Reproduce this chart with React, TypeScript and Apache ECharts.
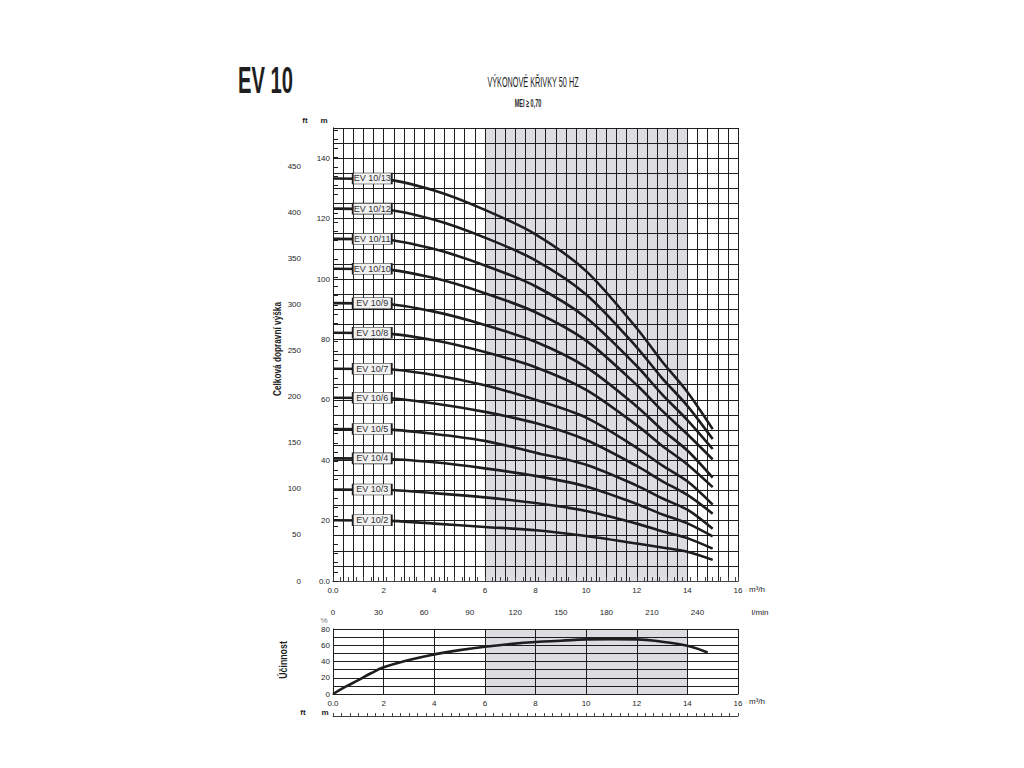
import React, { useEffect, useRef } from "react";
import * as echarts from "echarts";

const FONT = '"Liberation Sans Narrow", "Liberation Sans", "DejaVu Sans", sans-serif';
const INK = "#1e1e1e";
const SHADE = "#dcdce1";

// flow (m3/h) sample points of the head curves
const FLOW = [0, 2, 4, 6, 8, 10, 12, 13, 14, 15];
const EV13 = [133.3, 133.0, 129.3, 122.9, 114.8, 102.6, 83.7, 72.7, 62.6, 50.3];
const EV12 = [123.3, 123.0, 119.6, 113.7, 106.2, 94.9, 77.4, 67.2, 58.0, 47.0];
const EV11 = [113.3, 113.1, 109.9, 104.5, 97.6, 87.2, 71.2, 61.8, 53.3, 43.7];
const EV10 = [103.4, 103.2, 100.3, 95.3, 89.0, 79.6, 64.9, 56.4, 48.6, 40.3];
const EV9 = [92.0, 91.8, 89.2, 84.8, 79.2, 70.8, 57.8, 50.1, 43.2, 34.2];
const EV8 = [82.2, 82.0, 79.7, 75.8, 70.8, 63.3, 51.6, 44.8, 38.6, 31.1];
const EV7 = [70.3, 70.2, 68.2, 64.8, 60.0, 54.1, 44.1, 38.3, 33.0, 25.3];
const EV6 = [60.7, 60.6, 58.8, 56.0, 52.3, 46.7, 38.1, 33.1, 28.5, 22.3];
const EV5 = [50.3, 50.2, 48.7, 46.4, 42.5, 38.5, 31.6, 27.4, 23.6, 17.3];
const EV4 = [40.6, 40.5, 39.3, 37.3, 34.8, 31.3, 25.5, 22.1, 19.1, 14.8];
const EV3 = [30.3, 30.2, 29.1, 27.7, 25.8, 23.2, 19.0, 16.5, 14.2, 10.7];
const EV2 = [20.1, 20.0, 19.0, 17.9, 16.8, 14.9, 12.4, 11.1, 9.7, 7.0];

const CURVE_NAMES = ["EV 10/13", "EV 10/12", "EV 10/11", "EV 10/10", "EV 10/9", "EV 10/8", "EV 10/7", "EV 10/6", "EV 10/5", "EV 10/4", "EV 10/3", "EV 10/2"];
const CURVE_VALUES = [EV13, EV12, EV11, EV10, EV9, EV8, EV7, EV6, EV5, EV4, EV3, EV2];
const LABEL_FLOW = 1.55;

// efficiency curve
const EFF_FLOW = [0, 0.5, 1, 1.5, 2, 3, 4, 5, 6, 7, 8, 9, 10, 11, 12, 13, 14, 14.8];
const EFF_VALUES = [0, 9, 17, 25.5, 32.8, 41.8, 48.8, 54, 58.2, 61.5, 64, 65.6, 67.2, 67.6, 67.2, 64.3, 59.4, 51];

// best efficiency (shaded) range, m3/h
const RANGE = [6, 14];

const M_MAX = 150;
const FT_MAX = M_MAX / 0.3048;
const FLOW_MAX = 16;
const LMIN_MAX = (FLOW_MAX * 1000) / 60;
const EFF_MAX = 80;

const near = (v: number, step: number) => Math.abs(v / step - Math.round(v / step)) < 1e-6;
const flowFmt = (v: number) => {
  const r = Math.round(v * 1000) / 1000;
  if (r === 0) return "0.0";
  return near(r, 2) ? String(Math.round(r)) : "";
};

const labelStyle = { fontFamily: FONT, fontSize: 8, color: INK };

function buildOption() {
  const curveSeries = CURVE_NAMES.map((name, i) => ({
    type: "line",
    name,
    xAxisIndex: 0,
    yAxisIndex: 0,
    z: 3,
    smooth: 0.3,
    symbol: "none",
    lineStyle: { color: INK, width: 2.6 },
    data: FLOW.map((q, j) => [q, CURVE_VALUES[i][j]]),
    markPoint: {
      silent: true,
      z: 6,
      symbol: "rect",
      symbolSize: [39, 11],
      itemStyle: { color: "#f2f2f2", borderColor: INK, borderWidth: 1 },
      label: { show: true, position: "inside", formatter: name, fontFamily: FONT, fontSize: 9, color: "#333" },
      data: [{ coord: [LABEL_FLOW, CURVE_VALUES[i][0]] }],
    },
  }));

  const txt = (text: string, x: number, y: number, size: number, extra: any = {}) => ({
    type: "text",
    x,
    y,
    rotation: extra.rotation || 0,
    scaleX: extra.scaleX || 1,
    style: {
      text,
      fill: extra.fill || INK,
      font: `${extra.weight || "normal"} ${size}px ${FONT}`,
      textAlign: extra.align || "center",
      textVerticalAlign: "middle",
      align: extra.align || "center",
      verticalAlign: "middle",
    },
  });

  return {
    animation: false,
    backgroundColor: "#ffffff",
    grid: [
      { left: 333, top: 128, width: 405, height: 453 },
      { left: 333, top: 629, width: 405, height: 65 },
    ],
    xAxis: [
      {
        type: "value", gridIndex: 0, min: 0, max: FLOW_MAX, interval: 0.4, z: 2,
        axisLine: { show: true, lineStyle: { color: INK, width: 1 } },
        axisTick: { show: false },
        splitLine: { show: true, lineStyle: { color: INK, width: 1 } },
        axisLabel: { ...labelStyle, margin: 5, formatter: flowFmt },
      },
      {
        type: "value", gridIndex: 0, position: "bottom", offset: 22, min: 0, max: LMIN_MAX, interval: 5, z: 2,
        axisLine: { show: true, lineStyle: { color: "#444", width: 1 } },
        axisTick: { show: true, inside: true, length: 4, lineStyle: { color: "#444" } },
        splitLine: { show: false },
        axisLabel: { ...labelStyle, margin: 5, formatter: (v: number) => (near(v, 30) && v < 260 ? String(Math.round(v)) : "") },
      },
      {
        type: "value", gridIndex: 1, min: 0, max: FLOW_MAX, interval: 2, z: 2,
        axisLine: { show: true, lineStyle: { color: INK, width: 1 } },
        axisTick: { show: false },
        splitLine: { show: true, lineStyle: { color: INK, width: 1 } },
        axisLabel: { ...labelStyle, margin: 5, formatter: flowFmt },
      },
      {
        type: "value", gridIndex: 1, position: "bottom", offset: 22, min: 0, max: 48, interval: 1, z: 2,
        axisLine: { show: true, lineStyle: { color: "#444", width: 1 } },
        axisTick: { show: true, inside: true, length: 3, lineStyle: { color: "#444" } },
        splitLine: { show: false },
        axisLabel: { show: false },
      },
    ],
    yAxis: [
      {
        type: "value", gridIndex: 0, min: 0, max: M_MAX, interval: 5, z: 2,
        axisLine: { show: true, lineStyle: { color: INK, width: 1 } },
        axisTick: { show: false },
        splitLine: { show: true, lineStyle: { color: INK, width: 1 } },
        axisLabel: { ...labelStyle, margin: 3, formatter: (v: number) => (v === 0 ? "0.0" : near(v, 20) ? String(v) : "") },
      },
      {
        type: "value", gridIndex: 0, position: "left", offset: 28, min: 0, max: FT_MAX, interval: 10, z: 2,
        axisLine: { show: true, lineStyle: { color: INK, width: 1 } },
        axisTick: { show: true, inside: true, length: 5, lineStyle: { color: INK } },
        splitLine: { show: false },
        axisLabel: { ...labelStyle, margin: 4, formatter: (v: number) => (near(v, 50) ? String(Math.round(v)) : "") },
      },
      {
        type: "value", gridIndex: 1, min: 0, max: EFF_MAX, interval: 10, z: 2,
        axisLine: { show: true, lineStyle: { color: INK, width: 1 } },
        axisTick: { show: false },
        splitLine: { show: true, lineStyle: { color: INK, width: 1 } },
        axisLabel: { ...labelStyle, margin: 3, formatter: (v: number) => (near(v, 20) ? String(v) : "") },
      },
    ],
    series: [
      {
        type: "line", xAxisIndex: 0, yAxisIndex: 0, z: 0, symbol: "none", data: [],
        markArea: {
          silent: true,
          z: 0,
          itemStyle: { color: SHADE },
          data: [[{ xAxis: RANGE[0], yAxis: 0 }, { xAxis: RANGE[1], yAxis: M_MAX }]],
        },
      },
      {
        type: "line", xAxisIndex: 2, yAxisIndex: 2, z: 0, symbol: "none", data: [],
        markArea: {
          silent: true,
          z: 0,
          itemStyle: { color: SHADE },
          data: [[{ xAxis: RANGE[0], yAxis: 0 }, { xAxis: RANGE[1], yAxis: EFF_MAX }]],
        },
      },
      ...curveSeries,
      {
        type: "line", name: "Účinnost", xAxisIndex: 2, yAxisIndex: 2, z: 3,
        smooth: 0.5, symbol: "none",
        lineStyle: { color: INK, width: 2.6 },
        data: EFF_FLOW.map((q, j) => [q, EFF_VALUES[j]]),
      },
    ],
    graphic: [
      txt("EV 10", 238, 81, 36, { weight: "bold", align: "left", scaleX: 0.56 }),
      txt("VÝKONOVÉ KŘIVKY 50 HZ", 533, 82, 14, { scaleX: 0.52 }),
      txt("MEI ≥ 0,70", 528, 103, 11, { weight: "bold", scaleX: 0.5 }),
      txt("ft", 305, 120, 8, { weight: "bold" }),
      txt("m", 324, 120, 8, { weight: "bold" }),
      txt("Celková dopravní výška", 277, 349, 11, { weight: "bold", rotation: Math.PI / 2, scaleX: 0.75 }),
      txt("Účinnost", 283, 660, 11, { weight: "bold", rotation: Math.PI / 2, scaleX: 0.8 }),
      txt("%", 324, 620, 8, { fill: "#777" }),
      txt("ft", 303, 712, 8, { weight: "bold" }),
      txt("m", 325, 712, 8, { weight: "bold" }),
      txt("m³/h", 757, 589, 8),
      txt("l/min", 760, 612, 8),
      txt("m³/h", 757, 701, 8),
    ],
  };
}

export default function App() {
  const ref = useRef<HTMLDivElement>(null);
  useEffect(() => {
    if (!ref.current) return;
    const chart = echarts.init(ref.current, undefined, { renderer: "svg" });
    chart.setOption(buildOption() as any);
    return () => chart.dispose();
  }, []);
  return <div ref={ref} style={{ position: "absolute", left: 0, top: 0, width: 1024, height: 768, background: "#fff" }} />;
}
